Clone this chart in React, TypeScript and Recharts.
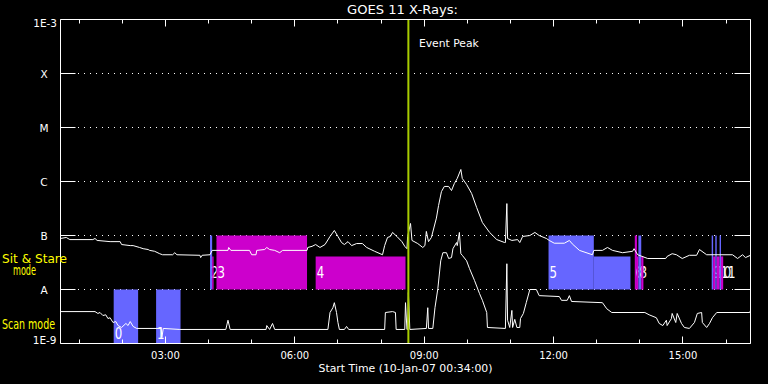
import React from "react";
import { LineChart, Line, XAxis, YAxis, CartesianGrid, ReferenceArea, ReferenceLine } from "recharts";

const FONT = "DejaVu Sans, Verdana, sans-serif";

// ---- text ----
const chartTitle = "GOES 11 X-Rays:";
const xAxisTitle = "Start Time (10-Jan-07 00:34:00)";
const eventPeakLabel = "Event Peak";
const stareLabel = ["Sit & Stare", "mode"];
const scanLabel = "Scan mode";

// ---- axes ----
const startTime = "00:34";
const spanHours = 16;
const hourTicks = [1, 2, 3, 4, 5, 6, 7, 8, 9, 10, 11, 12, 13, 14, 15, 16];
const majorHours = [3, 6, 9, 12, 15];
const majorLabels = ["03:00", "06:00", "09:00", "12:00", "15:00"];
const fluxTicks = [1e-9, 1e-8, 1e-7, 1e-6, 1e-5, 1e-4, 1e-3];
const fluxLabels = ["1E-9", "A", "B", "C", "M", "X", "1E-3"];

// ---- event ----
const eventPeakTime = "08:38";

// ---- GOES long channel (1-8 A) ----
const longTimes = [
  "00:34", "00:42", "00:47", "01:19", "01:22", "01:25", "01:43", "01:57", "01:59", "02:11",
  "02:15", "02:24", "02:29", "02:36", "02:38", "02:45", "02:52", "02:56", "03:10", "03:13",
  "03:16", "03:48", "03:49", "03:51", "04:02", "04:05", "04:27", "04:28", "04:31", "04:57",
  "05:00", "05:06", "05:07", "05:18", "05:21", "05:25", "05:32", "05:39", "05:43", "06:17",
  "06:18", "06:24", "06:29", "06:35", "06:42", "06:49", "06:55", "07:00", "07:05", "07:09",
  "07:14", "07:19", "07:26", "07:34", "07:40", "07:51", "08:02", "08:05", "08:09", "08:13",
  "08:16", "08:22", "08:29", "08:33", "08:36", "08:37", "08:41", "08:43", "08:51", "08:58",
  "09:01", "09:03", "09:06", "09:10", "09:17", "09:20", "09:24", "09:28", "09:34", "09:38",
  "09:42", "09:46", "09:51", "09:53", "09:59", "10:06", "10:13", "10:21", "10:31", "10:41",
  "10:52", "10:53", "10:55", "10:56", "11:02", "11:10", "11:13", "11:17", "11:27", "11:34",
  "11:40", "11:50", "11:54", "12:01", "12:15", "12:22", "12:26", "12:36", "12:54", "12:56",
  "13:08", "13:15", "13:22", "13:36", "13:50", "13:52", "13:57", "14:11", "14:36", "14:38",
  "14:45", "14:51", "14:59", "15:09", "15:19", "15:23", "15:33", "16:09", "16:16", "16:23",
  "16:27", "16:34",
];
const longFlux = [
  8.8e-8, 9.2e-8, 8.4e-8, 8.4e-8, 8.8e-8, 8.1e-8, 7.7e-8, 7.7e-8, 6.8e-8, 6.5e-8,
  6.5e-8, 6.0e-8, 5.7e-8, 5.5e-8, 5.3e-8, 5.1e-8, 4.6e-8, 4.4e-8, 4.4e-8, 4.8e-8,
  4.4e-8, 4.3e-8, 3.9e-8, 4.3e-8, 4.4e-8, 5.3e-8, 5.3e-8, 6.0e-8, 5.3e-8, 5.3e-8,
  4.4e-8, 4.4e-8, 5.3e-8, 5.5e-8, 6.0e-8, 5.5e-8, 5.3e-8, 4.8e-8, 5.3e-8, 5.3e-8,
  6.0e-8, 6.3e-8, 6.8e-8, 6.0e-8, 6.8e-8, 9.6e-8, 1.24e-7, 9.6e-8, 7.4e-8, 6.8e-8,
  7.7e-8, 6.5e-8, 7.1e-8, 7.1e-8, 6.0e-8, 5.1e-8, 4.4e-8, 6.5e-8, 9.2e-8, 9.6e-8,
  1.14e-7, 9.6e-8, 7.7e-8, 6.3e-8, 5.7e-8, 9.6e-8, 1.67e-7, 8.1e-8, 7.1e-8, 6.0e-8,
  6.5e-8, 1.19e-7, 7.7e-8, 9.2e-8, 2.1e-7, 3.6e-7, 6.5e-7, 8.1e-7, 8.1e-7, 6.8e-7,
  9.2e-7, 1.14e-6, 1.67e-6, 1.14e-6, 8.8e-7, 6.0e-7, 3.3e-7, 1.74e-7, 1.14e-7, 8.4e-8,
  7.4e-8, 7.4e-8, 3.9e-7, 8.8e-8, 8.1e-8, 8.4e-8, 7.4e-8, 9.6e-8, 1.0e-7, 1.14e-7,
  1.0e-7, 8.8e-8, 8.1e-8, 7.2e-8, 7.2e-8, 8.1e-8, 7.0e-8, 5.3e-8, 4.4e-8, 5.3e-8,
  5.3e-8, 6.0e-8, 5.3e-8, 4.8e-8, 5.1e-8, 5.7e-8, 4.4e-8, 3.75e-8, 3.75e-8, 4.1e-8,
  4.6e-8, 4.4e-8, 3.75e-8, 4.3e-8, 4.3e-8, 5.5e-8, 4.4e-8, 4.4e-8, 3.75e-8, 4.4e-8,
  3.9e-8, 4.3e-8,
];

// ---- GOES short channel (0.5-4 A) ----
const shortTimes = [
  "00:34", "01:22", "01:26", "01:29", "01:33", "01:37", "01:40", "01:43", "01:47", "01:51",
  "01:54", "01:59", "02:05", "02:08", "02:11", "02:15", "02:20", "02:54", "02:55", "02:57",
  "03:20", "04:24", "04:27", "04:30", "05:20", "05:21", "05:25", "05:29", "05:32", "06:46",
  "06:49", "06:53", "06:55", "06:58", "07:00", "07:02", "07:09", "07:12", "07:15", "08:05",
  "08:06", "08:16", "08:20", "08:21", "08:33", "08:34", "08:36", "08:37", "08:38", "08:40",
  "09:03", "09:05", "09:06", "09:12", "09:15", "09:19", "09:23", "09:26", "09:31", "09:34",
  "09:38", "09:40", "09:45", "09:46", "09:49", "09:51", "09:53", "09:59", "10:03", "10:10",
  "10:17", "10:21", "10:27", "10:28", "10:53", "10:55", "10:56", "10:59", "11:02", "11:03",
  "11:06", "11:09", "11:13", "11:14", "11:18", "11:22", "11:27", "11:36", "11:40", "12:08",
  "12:11", "12:19", "12:22", "12:25", "13:08", "13:14", "13:21", "14:07", "14:13", "14:23",
  "14:27", "14:32", "14:37", "14:38", "14:44", "14:45", "14:50", "14:52", "14:58", "15:02",
  "15:09", "15:16", "15:20", "15:26", "15:27", "15:33", "15:37", "15:41", "15:47", "16:33",
  "16:34",
];
const shortFlux = [
  3.9e-9, 3.9e-9, 3.6e-9, 3.75e-9, 3.3e-9, 3.4e-9, 2.9e-9, 3.0e-9, 2.45e-9, 2.55e-9,
  2.15e-9, 1.98e-9, 2.35e-9, 2.15e-9, 2.55e-9, 2.07e-9, 1.9e-9, 1.9e-9, 1.29e-9, 1.9e-9,
  1.82e-9, 1.82e-9, 2.7e-9, 1.82e-9, 1.82e-9, 2.15e-9, 1.82e-9, 2.35e-9, 1.82e-9, 1.82e-9,
  3.75e-9, 4.6e-9, 5.7e-9, 3.75e-9, 2.45e-9, 1.82e-9, 1.82e-9, 2.07e-9, 1.82e-9, 1.82e-9,
  3.75e-9, 3.9e-9, 3.75e-9, 1.82e-9, 1.82e-9, 5.7e-9, 1.82e-9, 1.82e-9, 8.8e-9, 1.82e-9,
  1.9e-9, 4.6e-9, 1.9e-9, 1.9e-9, 4.6e-9, 1.04e-8, 3.4e-8, 4.8e-8, 4.8e-8, 3.75e-8,
  3.9e-8, 5.7e-8, 7.4e-8, 6.5e-8, 1.14e-7, 4.6e-8, 4.3e-8, 3.4e-8, 2.45e-8, 1.47e-8,
  8.4e-9, 6.3e-9, 3.75e-9, 1.98e-9, 1.9e-9, 3.0e-8, 2.7e-9, 1.98e-9, 4.1e-9, 1.98e-9,
  2.8e-9, 1.98e-9, 1.98e-9, 2.9e-9, 3.6e-9, 5.7e-9, 1.0e-8, 1.0e-8, 7.7e-9, 7.4e-9,
  6.3e-9, 6.3e-9, 7.7e-9, 6.0e-9, 5.7e-9, 4.4e-9, 3.75e-9, 3.75e-9, 3.4e-9, 3.0e-9,
  2.35e-9, 2.15e-9, 2.7e-9, 2.15e-9, 2.9e-9, 3.6e-9, 2.45e-9, 3.6e-9, 2.35e-9, 1.98e-9,
  1.9e-9, 2.45e-9, 3.6e-9, 3.75e-9, 2.45e-9, 1.98e-9, 2.35e-9, 3.0e-9, 3.75e-9, 3.75e-9,
  4.1e-9,
];

// ---- observation blocks ----
const barStart = ["01:48", "02:47", "04:02", "04:05", "04:11", "06:29", "11:53", "12:56", "13:53", "13:56", "13:58", "14:02", "15:40", "15:42", "15:45", "15:47", "15:51", "15:53"];
const barEnd = ["02:22", "03:21", "04:05", "04:07", "06:17", "08:34", "12:56", "13:47", "13:56", "13:58", "14:02", "14:05", "15:42", "15:45", "15:47", "15:51", "15:53", "15:56"];
const barBand = ["scan", "scan", "full", "half", "full", "half", "full", "half", "full", "half", "full", "half", "full", "half", "full", "half", "full", "half"];
const barKind = ["b", "b", "b", "m", "m", "m", "b", "b", "m", "m", "b", "m", "b", "m", "b", "m", "b", "m"];
const barLabel = ["0", "1", "2", "", "3", "4", "5", "", "6", "7", "8", "", "9", "", "10", "", "11", ""];
const bandLow: Record<string, number> = { scan: 1e-9, full: 1e-8, half: 1e-8 };
const bandHigh: Record<string, number> = { scan: 1e-8, full: 1e-7, half: 4.1e-8 };

const BLUE = "#6666ff";
const MAGENTA = "#cc00cc";
const PEAK = "#a8cc00";

const toH = (s: string) => {
  const [h, m] = s.split(":").map(Number);
  return h + m / 60;
};
const t0 = toH(startTime);
const domainX: [number, number] = [t0, t0 + spanHours];
const domainY: [number, number] = [1e-9, 1e-3];

const longData = longTimes.map((s, i) => ({ t: toH(s), v: longFlux[i] }));
const shortData = shortTimes.map((s, i) => ({ t: toH(s), v: shortFlux[i] }));

const crisp = (v: number) => Math.round(v - 0.5) + 0.5;

const BottomTick = (p: any) => {
  const { x, y, payload } = p;
  const i = majorHours.indexOf(payload.value);
  const len = i >= 0 ? 7 : 4;
  const xx = crisp(x);
  return (
    <g>
      <line x1={xx} x2={xx} y1={y} y2={y - len} stroke="#fff" strokeWidth={1} />
      {i >= 0 && (
        <text x={x} y={y + 15} textAnchor="middle" fill="#fff" fontSize={10} fontFamily={FONT}>
          {majorLabels[i]}
        </text>
      )}
    </g>
  );
};

const TopTick = (p: any) => {
  const { x, y, payload } = p;
  const len = majorHours.indexOf(payload.value) >= 0 ? 7 : 4;
  const xx = crisp(x);
  return <line x1={xx} x2={xx} y1={y} y2={y + len} stroke="#fff" strokeWidth={1} />;
};

const LeftTick = (p: any) => {
  const { x, y, payload } = p;
  const i = Math.round(Math.log10(payload.value)) + 9;
  const label = fluxLabels[i];
  const last = fluxTicks.length - 1;
  let text;
  if (i === 0) {
    text = <text x={x - 4} y={y} textAnchor="end" fill="#fff" fontSize={10.5} fontFamily={FONT}>{label}</text>;
  } else if (i === last) {
    text = <text x={x - 3.5} y={y + 7.5} textAnchor="end" fill="#fff" fontSize={10.5} fontFamily={FONT}>{label}</text>;
  } else {
    text = <text x={x - 16.5} y={y + 4} textAnchor="middle" fill="#fff" fontSize={10.5} fontFamily={FONT}>{label}</text>;
  }
  return (
    <g>
      {i > 0 && i < last && <line x1={x} x2={x + 15} y1={y} y2={y} stroke="#fff" strokeWidth={1} />}
      {text}
    </g>
  );
};

const RightTick = (p: any) => {
  const { x, y, payload } = p;
  const i = Math.round(Math.log10(payload.value)) + 9;
  if (i <= 0 || i >= fluxTicks.length - 1) return <g />;
  return <line x1={x} x2={x - 16} y1={y} y2={y} stroke="#fff" strokeWidth={1} />;
};

const makeBarLabel = (text: string, band: string) => (p: any) => {
  const vb = p.viewBox || {};
  const bottom = vb.y + vb.height;
  return (
    <text
      x={vb.x + 1}
      y={bottom - (band === "scan" ? 5 : 11.5)}
      fill="#fff"
      fontSize={16}
      fontFamily={FONT}
      textLength={7.5 * text.length}
      lengthAdjust="spacingAndGlyphs"
    >
      {text}
    </text>
  );
};

const peakLabel = (p: any) => {
  const vb = p.viewBox || {};
  return (
    <text x={vb.x + 10.5} y={vb.y + 27} fill="#fff" fontSize={10} fontFamily={FONT} textLength={60} lengthAdjust="spacingAndGlyphs">
      {eventPeakLabel}
    </text>
  );
};

const xTitle = (p: any) => {
  const vb = p.viewBox || {};
  return (
    <text x={vb.x + vb.width / 2} y={vb.y + 28.5} textAnchor="middle" fill="#fff" fontSize={11} fontFamily={FONT} textLength={174} lengthAdjust="spacingAndGlyphs">
      {xAxisTitle}
    </text>
  );
};

export default function App() {
  return (
    <div style={{ position: "absolute", left: 0, top: 0, width: 768, height: 384, background: "#000", overflow: "hidden" }}>
      <LineChart width={768} height={384} margin={{ top: 0, right: 0, bottom: 0, left: 0 }} style={{ background: "#000" }}>
        <CartesianGrid vertical={false} horizontal={true} stroke="#fff" strokeDasharray="1 5" strokeDashoffset={0.5} />
        <XAxis
          dataKey="t"
          type="number"
          domain={domainX}
          allowDataOverflow
          ticks={hourTicks}
          interval={0}
          height={40.5}
          tickSize={0}
          tickMargin={0}
          tick={BottomTick}
          axisLine={{ stroke: "#fff", strokeWidth: 1 }}
          tickLine={false}
          label={xTitle}
        />
        <XAxis
          xAxisId="top"
          orientation="top"
          dataKey="t"
          type="number"
          domain={domainX}
          allowDataOverflow
          ticks={hourTicks}
          interval={0}
          height={19.5}
          tickSize={0}
          tickMargin={0}
          tick={TopTick}
          axisLine={{ stroke: "#fff", strokeWidth: 1 }}
          tickLine={false}
        />
        <YAxis
          type="number"
          scale="log"
          domain={domainY}
          allowDataOverflow
          ticks={fluxTicks}
          interval={0}
          width={60.5}
          tickSize={0}
          tickMargin={0}
          tick={LeftTick}
          axisLine={{ stroke: "#fff", strokeWidth: 1 }}
          tickLine={false}
        />
        <YAxis
          yAxisId="right"
          orientation="right"
          type="number"
          scale="log"
          domain={domainY}
          allowDataOverflow
          ticks={fluxTicks}
          interval={0}
          width={17.5}
          tickSize={0}
          tickMargin={0}
          tick={RightTick}
          axisLine={{ stroke: "#fff", strokeWidth: 1 }}
          tickLine={false}
        />
        {barStart.map((s, i) => (
          <ReferenceArea
            key={"bar" + i}
            x1={toH(s)}
            x2={toH(barEnd[i])}
            y1={bandLow[barBand[i]]}
            y2={bandHigh[barBand[i]]}
            fill={barKind[i] === "b" ? BLUE : MAGENTA}
            fillOpacity={1}
            stroke="none"
            label={barLabel[i] ? makeBarLabel(barLabel[i], barBand[i]) : undefined}
          />
        ))}
        <Line data={longData} dataKey="v" stroke="#fff" strokeWidth={1} dot={false} isAnimationActive={false} type="linear" />
        <Line data={shortData} dataKey="v" stroke="#fff" strokeWidth={1} dot={false} isAnimationActive={false} type="linear" />
        <ReferenceLine x={toH(eventPeakTime)} stroke={PEAK} strokeWidth={2} label={peakLabel} />
      </LineChart>
      <svg width={768} height={384} style={{ position: "absolute", left: 0, top: 0, pointerEvents: "none" }}>
        <text x={402.5} y={13.5} textAnchor="middle" fill="#fff" fontSize={11.5} fontFamily={FONT} textLength={111} lengthAdjust="spacingAndGlyphs">
          {chartTitle}
        </text>
        <text x={2} y={263} fill="#ffff00" fontSize={13} fontFamily={FONT} textLength={65} lengthAdjust="spacingAndGlyphs">
          {stareLabel[0]}
        </text>
        <text x={13} y={274.5} fill="#ffff00" fontSize={13.5} fontFamily={FONT} textLength={23} lengthAdjust="spacingAndGlyphs">
          {stareLabel[1]}
        </text>
        <text x={2} y={328.5} fill="#ffff00" fontSize={13.5} fontFamily={FONT} textLength={53} lengthAdjust="spacingAndGlyphs">
          {scanLabel}
        </text>
      </svg>
    </div>
  );
}
